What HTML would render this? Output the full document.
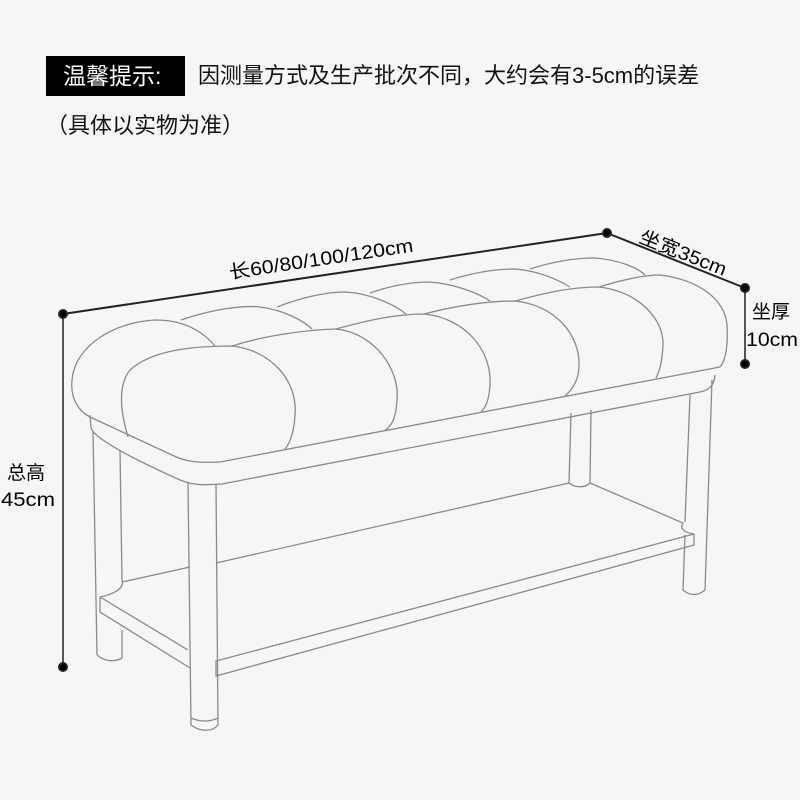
<!DOCTYPE html>
<html><head><meta charset="utf-8"><style>
body{margin:0;width:800px;height:800px;background:#f6f6f6;overflow:hidden;position:relative;font-family:"Liberation Sans","Noto Sans CJK SC",sans-serif;color:#111}
.t{position:absolute;white-space:nowrap}
</style></head><body>
<div class="t" style="left:46px;top:56px;width:139px;height:40px;background:#000"></div>
<div class="t" style="left:63px;top:61px;font-size:23px;color:#fff;line-height:30px">温馨提示:</div>
<div class="t" style="left:198px;top:61px;font-size:22px;line-height:30px">因测量方式及生产批次不同，大约会有3-5cm的误差</div>
<div class="t" style="left:46px;top:111px;font-size:22px;line-height:30px">（具体以实物为准）</div>
<svg width="800" height="800" style="position:absolute;left:0;top:0" font-family="Liberation Sans, Noto Sans CJK SC, sans-serif">
<g stroke="#222" stroke-width="2" fill="#000">
<line x1="63" y1="314" x2="607" y2="233"/>
<line x1="607" y1="233" x2="745" y2="288"/>
<line x1="745" y1="288" x2="745" y2="364" stroke="#555"/>
<line x1="63" y1="314" x2="63" y2="667" stroke="#555"/>
<circle cx="63" cy="314" r="4"/><circle cx="607" cy="233" r="4"/><circle cx="745" cy="288" r="4"/><circle cx="745" cy="364" r="4"/><circle cx="63" cy="667" r="4"/>
</g>
<text x="0" y="0" font-size="19" textLength="186" lengthAdjust="spacingAndGlyphs" transform="translate(230,279) rotate(-8.5)">长60/80/100/120cm</text>
<text x="0" y="0" font-size="19" textLength="92" lengthAdjust="spacingAndGlyphs" transform="translate(638,242) rotate(21.7)">坐宽35cm</text>
<text x="752" y="318" font-size="19">坐厚</text>
<text x="746" y="346" font-size="19" textLength="52" lengthAdjust="spacingAndGlyphs">10cm</text>
<text x="7" y="479" font-size="19">总高</text>
<text x="1" y="506" font-size="19" textLength="54" lengthAdjust="spacingAndGlyphs">45cm</text>
<g fill="none" stroke="#8a8a8a" stroke-width="1.3">
<!-- back row arcs -->
<path d="M181,320 C210,310 240,305 260,307 C285,310 305,322 312,329"/>
<path d="M277,307 C300,298 325,292 345,292 C370,293 395,305 406,314"/>
<path d="M370,293 C390,286 410,282 430,282 C455,284 478,293 490,301"/>
<path d="M450,280 C475,272 495,269 515,269 C540,271 560,281 570,287"/>
<path d="M530,269 C555,261 575,258 595,258 C620,260 638,268 645,275"/>
<!-- left end pillow -->
<path d="M215,346 C200,328 180,320 155,320 C115,322 75,345 72,380 C70,400 80,412 90,417 L172,455 C185,462 200,463 220,462 L720,367"/>
<!-- front pillows -->
<path d="M128,437 C120,410 118,385 130,370 C150,352 185,346 232,346 C270,350 298,380 295,415 C294,432 290,443 285,449"/>
<path d="M232,346 C260,337 300,330 336,329 C375,333 400,370 397,400 C396,418 392,426 384,431"/>
<path d="M336,329 C365,321 395,314 424,314 C465,318 492,350 490,385 C489,400 486,407 481,412"/>
<path d="M424,314 C455,306 485,301 515,301 C555,305 580,335 579,365 C579,380 572,390 565,396"/>
<path d="M515,301 C545,293 570,287 599,287 C640,292 664,320 663,345 C662,362 660,370 656,378"/>
<path d="M599,287 C625,279 645,275 660,275 C700,280 725,300 727,325 C728,345 726,360 720,367"/>
<!-- frame top rail -->
<path d="M90,415 L91,428 C95,440 140,462 180,480 C195,486 205,485 222,484 L700,392 C710,390 714,385 715,375"/>
<!-- legs -->
<path d="M93,432 L97,655 M120,450 L122,580"/>
<path d="M97,655 C105,662 115,662 122,658 L122,630"/>
<path d="M188,482 L191,725 C200,732 212,732 218,725 L216,484"/>
<path d="M191,718 C200,722 210,722 218,718"/>
<path d="M712,380 L705,590 C698,596 690,596 683,590 L685,535"/>
<path d="M690,395 L685,522"/>
<path d="M571,413 L569,483 C575,488 585,488 590,483 L591,410"/>
<!-- shelf -->
<path d="M100,597 L188,650 M100,597 L100,612 L190,668"/>
<path d="M122,582 L190,567"/>
<path d="M216,563 L569,483"/>
<path d="M590,483 L683,523 C680,528 682,532 694,534 L694,545 L216,676 L216,661 L694,534"/>
<path d="M122,580 C125,590 110,595 100,597"/>
</g>
</svg>
</body></html>
